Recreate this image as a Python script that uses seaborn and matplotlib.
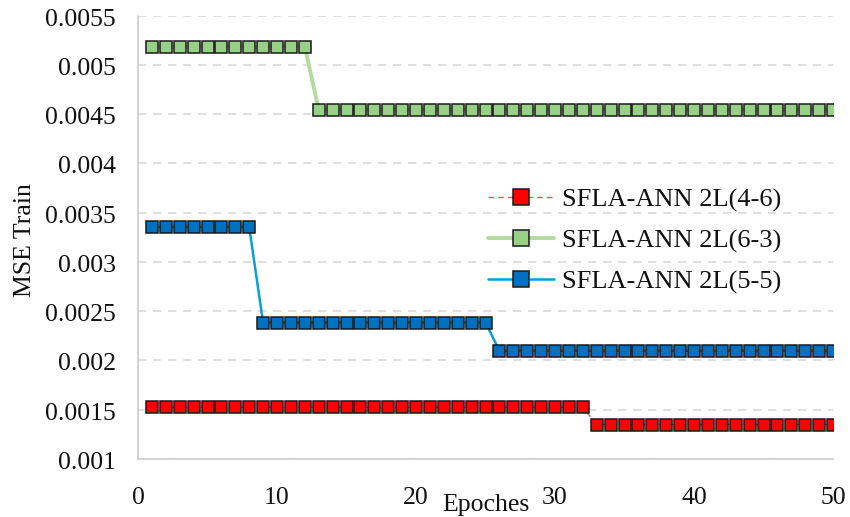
import numpy as np
import pandas as pd
import matplotlib
matplotlib.use("Agg")
import matplotlib.pyplot as plt
import matplotlib.transforms as mtransforms
import seaborn as sns

# ---- data ----
epochs = list(range(1, 51))
red_vals = [0.001525] * 32 + [0.00135] * 18          # SFLA-ANN 2L(4-6)
green_vals = [0.005185] * 12 + [0.004545] * 38       # SFLA-ANN 2L(6-3)
blue_vals = [0.003355] * 8 + [0.002385] * 17 + [0.0021] * 25  # SFLA-ANN 2L(5-5)
series_names = ["SFLA-ANN 2L(4-6)", "SFLA-ANN 2L(6-3)", "SFLA-ANN 2L(5-5)"]
y_ticks = [0.001, 0.0015, 0.002, 0.0025, 0.003, 0.0035, 0.004, 0.0045, 0.005, 0.0055]
y_tick_labels = ["0.001", "0.0015", "0.002", "0.0025", "0.003", "0.0035",
                 "0.004", "0.0045", "0.005", "0.0055"]
x_ticks = [0, 10, 20, 30, 40, 50]

df = pd.DataFrame({
    "Epoch": epochs * 3,
    "MSE": red_vals + green_vals + blue_vals,
    "Series": [series_names[0]] * 50 + [series_names[1]] * 50 + [series_names[2]] * 50,
})

sns.set_theme(style="white")
plt.rcParams["font.family"] = ["Liberation Serif", "DejaVu Serif"]

FS = 18.5
fig = plt.figure(figsize=(8.5, 5.17), dpi=100)
ax = fig.add_axes([138 / 850, 1 - 459 / 517, (833 - 138) / 850, (459 - 15.7) / 517])

styles = {
    series_names[0]: dict(line="#ff5050", lw=1.0, ls=(0, (4, 3)), face="#ff0000"),
    series_names[1]: dict(line="#b3dba0", lw=2.8, ls="-", face="#97d185"),
    series_names[2]: dict(line="#0aa0d8", lw=1.8, ls="-", face="#0070c0"),
}

for name in series_names:
    st = styles[name]
    sub = df[df["Series"] == name]
    sns.lineplot(data=sub, x="Epoch", y="MSE", ax=ax, color=st["line"],
                 linewidth=st["lw"], linestyle=st["ls"], marker="s",
                 markersize=9.0, markerfacecolor=st["face"],
                 markeredgecolor="#1a1a1a", markeredgewidth=1.1,
                 label=name, zorder=3)

ax.set_xlim(0, 50)
ax.set_ylim(0.001, 0.0055)
ax.set_xticks(x_ticks)
ax.set_yticks(y_ticks)
ax.set_yticklabels(y_tick_labels, va="center")
ax.tick_params(axis="both", length=0, labelsize=FS, colors="#111111")
ax.tick_params(axis="y", pad=16)
ax.tick_params(axis="x", pad=20)
for t in ax.get_yticklabels():
    t.set_transform(t.get_transform() + mtransforms.ScaledTranslation(0, -4 / 100, fig.dpi_scale_trans))

ax.grid(axis="y", color="#d9d9d9", linestyle=(0, (5, 4)), linewidth=1.2)
ax.grid(axis="x", visible=False)
for s in ["top", "right"]:
    ax.spines[s].set_visible(False)
for s in ["left", "bottom"]:
    ax.spines[s].set_color("#d0d0d0")
    ax.spines[s].set_linewidth(1.3)

ax.set_xlabel("")
ax.set_ylabel("")
fig.text(25 / 850, 1 - 240 / 517, "MSE Train", fontsize=FS, color="#111111",
         ha="center", va="center", rotation=90)

fig.text(486 / 850, 1 - 505 / 517, "Epoches", fontsize=FS, color="#111111",
         ha="center", va="center")

leg = ax.legend(loc="upper left",
                bbox_to_anchor=((488 - 138) / (833 - 138), (459 - 188) / (459 - 15.7)),
                frameon=False, fontsize=19, handlelength=2.5, handletextpad=0.3,
                labelspacing=0.65, borderaxespad=0, borderpad=0, markerscale=1.3)
for t in leg.get_texts():
    t.set_color("#111111")

fig.savefig("out.png", dpi=100)
